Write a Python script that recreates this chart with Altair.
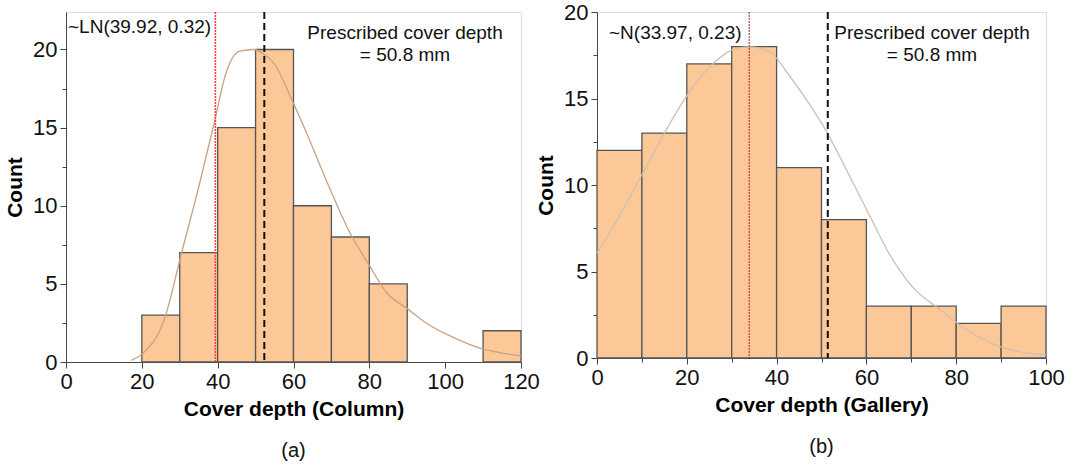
import altair as alt
import pandas as pd

# ---- data: panel (a) Column ----
col_bin_start = [20, 30, 40, 50, 60, 70, 80, 90, 100, 110]
col_counts = [3, 7, 15, 20, 10, 8, 5, 0, 0, 2]
col_fit_x = [17.2, 20.5, 25.9, 30.5, 35.0, 39.0, 42.2, 45.8, 49.5, 52.2, 54.9, 59.9,
             63.9, 69.4, 74.8, 79.7, 84.7, 90.1, 95.6, 101.0, 109.0, 115.5, 120.0]
col_fit_y = [0.1, 0.6, 2.7, 7.0, 11.2, 15.2, 18.5, 19.9, 20.0, 19.7, 19.1, 16.6,
             14.4, 11.2, 8.3, 6.3, 4.4, 3.4, 2.4, 1.7, 0.9, 0.55, 0.4]
col_mean = 39.4
col_prescribed = 52.3

# ---- data: panel (b) Gallery ----
gal_bin_start = [0, 10, 20, 30, 40, 50, 60, 70, 80, 90]
gal_counts = [12, 13, 17, 18, 11, 8, 3, 3, 2, 3]
gal_fit_x = [0, 4.1, 9.4, 14.8, 20.1, 25.4, 30.0, 33.8, 38.4, 42.9, 47.5, 51.3,
             55.9, 60.4, 65.0, 70.3, 76.4, 82.5, 89.3, 94.7, 100.0]
gal_fit_y = [6.06, 7.8, 10.3, 12.9, 15.2, 16.9, 17.8, 18.0, 17.7, 16.3, 14.6, 13.0,
             10.7, 8.4, 6.06, 4.1, 2.8, 1.6, 0.7, 0.33, 0.2]
gal_mean = 33.9
gal_prescribed = 51.4

BIN_W = 10
FONT = "Liberation Sans"
LABEL_FS = 22
ANN_FS = 19


def panel(bin_start, counts, fit_x, fit_y, mean, prescribed, xmax, ymax,
          xtitle, dist_label, curve_color, mean_color, mean_width, panel_label, w, h,
          t1x, t1y, t2x, t2y):
    bars = pd.DataFrame({"start": bin_start,
                         "end": [b + BIN_W for b in bin_start],
                         "count": counts})
    bars = bars[bars["count"] > 0]
    fit = pd.DataFrame({"x": fit_x, "y": fit_y})

    xminor = [v for v in range(0, xmax + 1, 10)]
    yminor = [v / 2 for v in range(0, int(ymax * 2) + 1, 5)]
    xscale = alt.Scale(domain=[0, xmax], nice=False, zero=True)
    yscale = alt.Scale(domain=[0, ymax], nice=False)

    xaxis = alt.Axis(values=xminor, labelExpr="datum.value % 20 === 0 ? datum.label : ''",
                     tickSize={"condition": {"test": "datum.value % 20 === 0", "value": 6}, "value": 4},
                     grid=False, labelFontSize=LABEL_FS, labelFont=FONT, labelColor="#111",
                     title=xtitle, titleFontSize=21, titleFont=FONT, titleFontWeight="bold",
                     titlePadding=6, domainColor="#444", tickColor="#444", labelPadding=3,
                     labelFlush=False, labelOverlap=False)
    yaxis = alt.Axis(values=yminor, labelExpr="datum.value % 5 === 0 ? datum.label : ''",
                     tickSize={"condition": {"test": "datum.value % 5 === 0", "value": 6}, "value": 4},
                     grid=False, labelFontSize=LABEL_FS, labelFont=FONT, labelColor="#111",
                     title="Count", titleFontSize=21, titleFont=FONT, titleFontWeight="bold",
                     titlePadding=7, domainColor="#444", tickColor="#444", labelPadding=3,
                     labelFlush=False, labelOverlap=False)

    b = alt.Chart(bars).mark_rect(fill="#fdc898", stroke="#555555", strokeWidth=1.3).encode(
        x=alt.X("start:Q", scale=xscale, axis=xaxis),
        x2="end:Q",
        y=alt.Y("count:Q", scale=yscale, axis=yaxis),
        y2=alt.datum(0),
    )
    curve = alt.Chart(fit).mark_line(color=curve_color, strokeWidth=1.3, interpolate="monotone").encode(
        x="x:Q", y="y:Q")
    mean_rule = alt.Chart().mark_rule(color=mean_color, strokeWidth=mean_width, strokeDash=[2, 1]).encode(
        x=alt.datum(mean))
    pres_rule = alt.Chart().mark_rule(color="#111", strokeWidth=2, strokeDash=[7, 4]).encode(
        x=alt.datum(prescribed))
    t1 = alt.Chart().mark_text(align="left", baseline="middle", fontSize=ANN_FS, font=FONT, color="#111").encode(
        x=alt.value(t1x), y=alt.value(t1y), text=alt.value(dist_label))
    t2 = alt.Chart().mark_text(align="center", baseline="middle", fontSize=ANN_FS, font=FONT, color="#111").encode(
        x=alt.value(t2x), y=alt.value(t2y), text=alt.value("Prescribed cover depth"))
    t3 = alt.Chart().mark_text(align="center", baseline="middle", fontSize=ANN_FS, font=FONT, color="#111").encode(
        x=alt.value(t2x), y=alt.value(t2y + 22), text=alt.value("= 50.8 mm"))

    return alt.layer(b, curve, mean_rule, pres_rule, t1, t2, t3).properties(
        width=w, height=h,
        title=alt.TitleParams(panel_label, orient="bottom", fontSize=20, font=FONT,
                              fontWeight="normal", color="#111", offset=22),
    )


left = panel(col_bin_start, col_counts, col_fit_x, col_fit_y, col_mean, col_prescribed,
             120, 22.4, "Cover depth (Column)", "~LN(39.92, 0.32)", "#c9a283", "#ff3b3b", 1.6,
             "(a)", 455, 350, 2, 15, 339, 21)
right = panel(gal_bin_start, gal_counts, gal_fit_x, gal_fit_y, gal_mean, gal_prescribed,
              100, 20, "Cover depth (Gallery)", "~N(33.97, 0.23)", "#cdbfb2", "#b03030", 1.1,
              "(b)", 449, 346, 12, 21, 335, 21)

chart = alt.hconcat(left, right, spacing=76, bounds="flush").properties(
    padding={"left": 4, "top": 0, "right": 6, "bottom": 4}
).configure_view(stroke="#666666", strokeWidth=1.2).configure(background="white")

chart.save("out.html", embed_options={"renderer": "svg", "actions": False})
